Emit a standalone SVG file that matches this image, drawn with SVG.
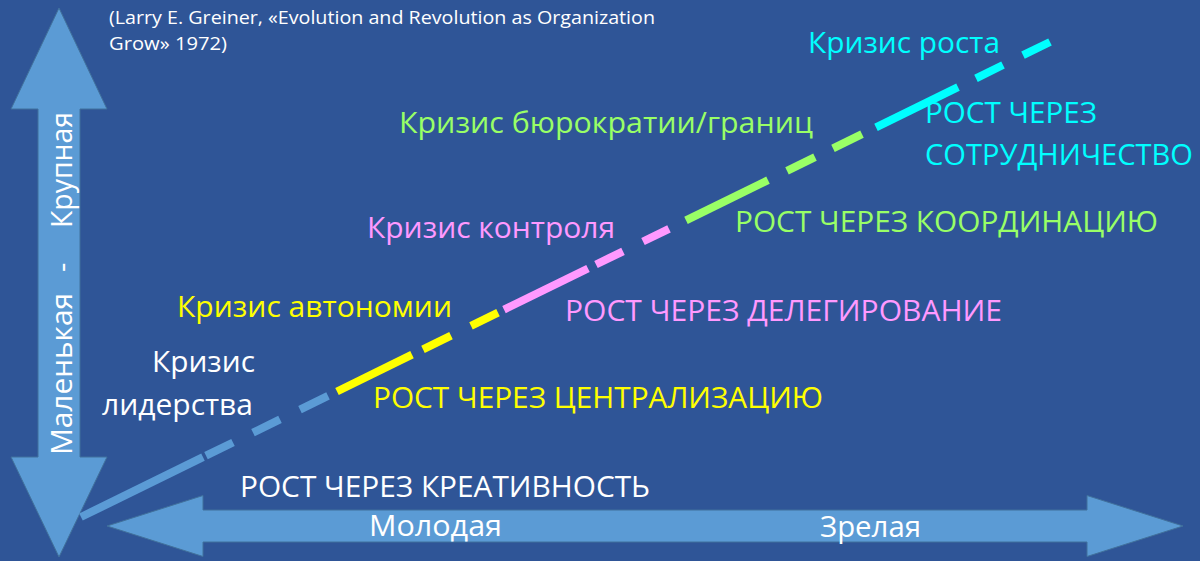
<svg xmlns="http://www.w3.org/2000/svg" width="1200" height="561" viewBox="0 0 1200 561">
<style>
.t{font-family:"Open Sans","Noto Sans","Liberation Sans",sans-serif;font-size:29px}
.cite{font-family:"Open Sans","Noto Sans","Liberation Sans",sans-serif;font-size:18px;fill:#fff}
.w{fill:#ffffff}.y{fill:#ffff00}.p{fill:#ff99ff}.g{fill:#99ff66}.c{fill:#00ffff}
.arrow{fill:#5b9bd5;stroke:#41719c;stroke-width:1}
.seg{fill:none;stroke-width:8;stroke-linecap:butt}
.sb{stroke:#5b9bd5}.sy{stroke:#ffff00}.sp{stroke:#ff99ff}.sg{stroke:#99ff66}.sc{stroke:#00ffff}
</style>
<rect x="0" y="0" width="1200" height="561" fill="#2f5597"/>
<g id="axis-size">
<polygon class="arrow" points="59,8 107,109 80,109 80,457 107,457 59,557 11,457 38,457 38,109 11,109"/>
<g transform="translate(72,455) rotate(-90)">
<text class="t w" x="0" y="0" textLength="162" lengthAdjust="spacingAndGlyphs">Маленькая</text>
<text class="t w" x="183" y="0">-</text>
<text class="t w" x="227" y="0" textLength="116" lengthAdjust="spacingAndGlyphs">Крупная</text>
</g>
</g>
<g id="axis-age">
<polygon class="arrow" points="107,526 203,495.5 203,510 1087,510 1087,495.5 1183,526 1087,556.5 1087,542 203,542 203,556.5"/>
<text class="t w" x="369" y="536" textLength="133" lengthAdjust="spacingAndGlyphs">Молодая</text>
<text class="t w" x="820" y="537" textLength="101" lengthAdjust="spacingAndGlyphs">Зрелая</text>
</g>
<g id="connectors">
<line class="seg sb" x1="81" y1="517" x2="203" y2="457.2"/>
<line class="seg sb" x1="206" y1="455.7" x2="233" y2="442.5"/>
<line class="seg sb" x1="253" y1="432.7" x2="280" y2="419.4"/>
<line class="seg sb" x1="300" y1="409.6" x2="328" y2="395.9"/>
<line class="seg sy" x1="337" y1="391.5" x2="412" y2="354.7"/>
<line class="seg sy" x1="423" y1="349.4" x2="451" y2="335.6"/>
<line class="seg sy" x1="471" y1="325.8" x2="498" y2="312.6"/>
<line class="seg sp" x1="504" y1="309.6" x2="588" y2="268.5"/>
<line class="seg sp" x1="596" y1="264.5" x2="623" y2="251.3"/>
<line class="seg sp" x1="643" y1="241.5" x2="669" y2="228.8"/>
<line class="seg sg" x1="686" y1="220.4" x2="768" y2="180.2"/>
<line class="seg sg" x1="787" y1="170.9" x2="815" y2="157.2"/>
<line class="seg sg" x1="833" y1="148.4" x2="862" y2="134.2"/>
<line class="seg sc" x1="876" y1="127.3" x2="958" y2="87.1"/>
<line class="seg sc" x1="976" y1="78.3" x2="1003" y2="65"/>
<line class="seg sc" x1="1023" y1="55.2" x2="1050" y2="42"/>
</g>
<g id="citation">
<text class="cite" x="109" y="24" textLength="546" lengthAdjust="spacingAndGlyphs">(Larry E. Greiner, «Evolution and Revolution as Organization</text>
<text class="cite" x="109" y="50" textLength="118" lengthAdjust="spacingAndGlyphs">Grow» 1972)</text>
</g>
<g id="phase-1">
<text class="t w" x="152" y="372" textLength="103" lengthAdjust="spacingAndGlyphs">Кризис</text>
<text class="t w" x="102" y="415" textLength="151" lengthAdjust="spacingAndGlyphs">лидерства</text>
<text class="t w" x="240" y="497" textLength="410" lengthAdjust="spacingAndGlyphs">РОСТ ЧЕРЕЗ КРЕАТИВНОСТЬ</text>
</g>
<g id="phase-2">
<text class="t y" x="177" y="317" textLength="275" lengthAdjust="spacingAndGlyphs">Кризис автономии</text>
<text class="t y" x="373" y="408" textLength="450" lengthAdjust="spacingAndGlyphs">РОСТ ЧЕРЕЗ ЦЕНТРАЛИЗАЦИЮ</text>
</g>
<g id="phase-3">
<text class="t p" x="367" y="238" textLength="248" lengthAdjust="spacingAndGlyphs">Кризис контроля</text>
<text class="t p" x="565" y="321" textLength="437" lengthAdjust="spacingAndGlyphs">РОСТ ЧЕРЕЗ ДЕЛЕГИРОВАНИЕ</text>
</g>
<g id="phase-4">
<text class="t g" x="399" y="133" textLength="414" lengthAdjust="spacingAndGlyphs">Кризис бюрократии/границ</text>
<text class="t g" x="735" y="232" textLength="423" lengthAdjust="spacingAndGlyphs">РОСТ ЧЕРЕЗ КООРДИНАЦИЮ</text>
</g>
<g id="phase-5">
<text class="t c" x="808" y="53" textLength="192" lengthAdjust="spacingAndGlyphs">Кризис роста</text>
<text class="t c" x="925" y="123" textLength="172" lengthAdjust="spacingAndGlyphs">РОСТ ЧЕРЕЗ</text>
<text class="t c" x="925" y="165" textLength="268" lengthAdjust="spacingAndGlyphs">СОТРУДНИЧЕСТВО</text>
</g>
</svg>
